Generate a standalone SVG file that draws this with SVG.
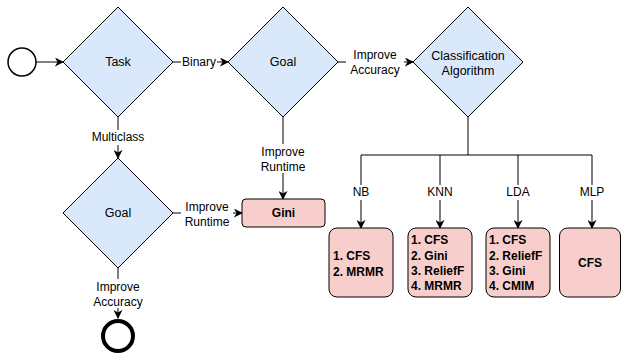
<svg xmlns="http://www.w3.org/2000/svg" width="621" height="358" viewBox="0 0 621 358">
  <defs>
    <marker id="arrow" viewBox="0 0 10 10" refX="9" refY="5" markerWidth="9" markerHeight="9" markerUnits="userSpaceOnUse" orient="auto">
      <path d="M0,0 L10,5 L0,10 L3,5 z" fill="#000"/>
    </marker>
    <style>
      .decision { fill: #dae8fc; stroke: #000; stroke-width: 1; }
      .result { fill: #f8cecc; stroke: #000; stroke-width: 1; }
      .edge { fill: none; stroke: #000; stroke-width: 1; }
      .arrow { marker-end: url(#arrow); }
      .lbl { font-family: "Liberation Sans", Arial, sans-serif; font-size: 12px; fill: #000; text-anchor: middle; }
      .node-text { font-family: "Liberation Sans", Arial, sans-serif; font-size: 12.5px; fill: #000; text-anchor: middle; }
      .bold { font-family: "Liberation Sans", Arial, sans-serif; font-size: 12px; font-weight: bold; fill: #000; }
      .bg { fill: #fff; }
    </style>
  </defs>
  <rect width="621" height="358" fill="#fff"/>

  <!-- connectors -->
  <g id="connectors">
    <line class="edge arrow" x1="36" y1="62" x2="63" y2="62"/>
    <line class="edge arrow" x1="173" y1="62" x2="228" y2="62"/>
    <line class="edge arrow" x1="338" y1="62" x2="413" y2="62"/>
    <line class="edge arrow" x1="118" y1="117" x2="118" y2="158"/>
    <line class="edge arrow" x1="283" y1="117" x2="283" y2="199"/>
    <line class="edge arrow" x1="173" y1="213" x2="242" y2="213"/>
    <line class="edge arrow" x1="118" y1="268" x2="118" y2="318"/>
    <!-- bus from the classifier decision to the result boxes -->
    <polyline class="edge" points="468,117 468,155"/>
    <line class="edge" x1="361" y1="155" x2="592" y2="155"/>
    <line class="edge arrow" x1="361" y1="155" x2="361" y2="228"/>
    <line class="edge arrow" x1="440" y1="155" x2="440" y2="228"/>
    <line class="edge arrow" x1="518" y1="155" x2="518" y2="228"/>
    <line class="edge arrow" x1="592" y1="155" x2="592" y2="228"/>

    <!-- edge labels -->
    <rect class="bg" x="181" y="55" width="36" height="15"/>
    <text class="lbl" x="199" y="66">Binary</text>
    <rect class="bg" x="346" y="47" width="58" height="29"/>
    <text class="lbl" x="375" y="59">Improve</text>
    <text class="lbl" x="375" y="74">Accuracy</text>
    <rect class="bg" x="89" y="130" width="58" height="15"/>
    <text class="lbl" x="118" y="141">Multiclass</text>
    <rect class="bg" x="258" y="144" width="50" height="29"/>
    <text class="lbl" x="283" y="156">Improve</text>
    <text class="lbl" x="283" y="171">Runtime</text>
    <rect class="bg" x="181" y="199" width="52" height="29"/>
    <text class="lbl" x="207" y="211">Improve</text>
    <text class="lbl" x="207" y="226">Runtime</text>
    <rect class="bg" x="89" y="279" width="58" height="29"/>
    <text class="lbl" x="118" y="291">Improve</text>
    <text class="lbl" x="118" y="306">Accuracy</text>
    <rect class="bg" x="349" y="185" width="24" height="15"/>
    <text class="lbl" x="361" y="196">NB</text>
    <rect class="bg" x="426" y="185" width="28" height="15"/>
    <text class="lbl" x="440" y="196">KNN</text>
    <rect class="bg" x="504" y="185" width="28" height="15"/>
    <text class="lbl" x="518" y="196">LDA</text>
    <rect class="bg" x="578" y="185" width="28" height="15"/>
    <text class="lbl" x="592" y="196">MLP</text>
  </g>

  <g id="start">
    <circle cx="22" cy="62" r="14" fill="#fff" stroke="#000" stroke-width="1.5"/>
  </g>

  <g id="task">
    <polygon class="decision" points="118,7 173,62 118,117 63,62"/>
    <text class="node-text" x="118" y="66">Task</text>
  </g>

  <g id="goal-binary">
    <polygon class="decision" points="283,7 338,62 283,117 228,62"/>
    <text class="node-text" x="283" y="66">Goal</text>
  </g>

  <g id="classification-algorithm">
    <polygon class="decision" points="468,7 523,62 468,117 413,62"/>
    <text class="node-text" x="468" y="60">Classification</text>
    <text class="node-text" x="468" y="75">Algorithm</text>
  </g>

  <g id="goal-multiclass">
    <polygon class="decision" points="118,158 173,213 118,268 63,213"/>
    <text class="node-text" x="118" y="217">Goal</text>
  </g>

  <g id="end">
    <circle cx="118" cy="336" r="15" fill="#fff" stroke="#000" stroke-width="4"/>
  </g>

  <g id="gini">
    <rect class="result" x="242" y="199" width="83" height="28" rx="4"/>
    <text class="bold" x="283.5" y="217" text-anchor="middle">Gini</text>
  </g>

  <g id="nb">
    <rect class="result" x="329" y="228" width="64" height="69" rx="8"/>
    <text class="bold" x="333" y="260">1. CFS</text>
    <text class="bold" x="333" y="276">2. MRMR</text>
  </g>

  <g id="knn">
    <rect class="result" x="408" y="228" width="64" height="69" rx="8"/>
    <text class="bold" x="411" y="244">1. CFS</text>
    <text class="bold" x="411" y="260">2. Gini</text>
    <text class="bold" x="411" y="275">3. ReliefF</text>
    <text class="bold" x="411" y="290">4. MRMR</text>
  </g>

  <g id="lda">
    <rect class="result" x="486" y="228" width="64" height="69" rx="8"/>
    <text class="bold" x="489" y="244">1. CFS</text>
    <text class="bold" x="489" y="260">2. ReliefF</text>
    <text class="bold" x="489" y="275">3. Gini</text>
    <text class="bold" x="489" y="290">4. CMIM</text>
  </g>

  <g id="mlp">
    <rect class="result" x="559.5" y="228" width="61" height="69" rx="8"/>
    <text class="bold" x="590" y="267" text-anchor="middle">CFS</text>
  </g>
</svg>
